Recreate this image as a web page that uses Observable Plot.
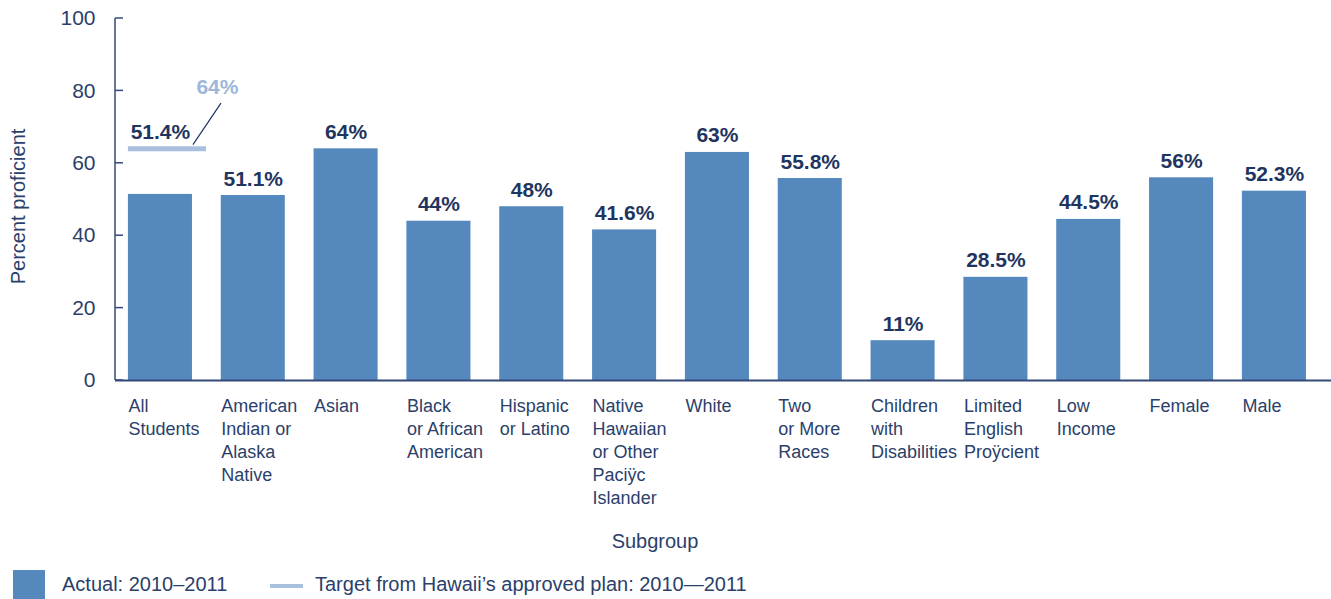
<!DOCTYPE html>
<html>
<head>
<meta charset="utf-8">
<script src="https://cdn.jsdelivr.net/npm/d3@7"></script>
<script src="https://cdn.jsdelivr.net/npm/@observablehq/plot@0.6"></script>
<style>
  html, body { margin: 0; padding: 0; background: #fff; }
  body { width: 1331px; height: 599px; overflow: hidden; position: relative; font-family: "Liberation Sans", Arial, sans-serif; color: #2b3f6b; }
  #chart { position: absolute; left: 0; top: 0; }
  #xtitle { position: absolute; left: 655px; top: 530px; transform: translateX(-50%); font-size: 20px; white-space: nowrap; }
  #legend { position: absolute; left: 0; top: 568px; height: 31px; width: 1331px; font-size: 20px; }
  .sw-bar { position: absolute; left: 13px; top: 2px; width: 32px; height: 29px; background: #5589be; }
  .lab1 { position: absolute; left: 62px; top: 5px; white-space: nowrap; }
  .sw-line { position: absolute; left: 270px; top: 16px; width: 33px; height: 4px; background: #a9bfde; }
  .lab2 { position: absolute; left: 315px; top: 5px; white-space: nowrap; }
</style>
</head>
<body>
<div id="chart"></div>
<div id="xtitle">Subgroup</div>
<div id="legend">
  <div class="sw-bar"></div><div class="lab1">Actual: 2010–2011</div>
  <div class="sw-line"></div><div class="lab2">Target from Hawaii’s approved plan: 2010—2011</div>
</div>
<script>
const subgroups = ["All Students", "American Indian or Alaska Native", "Asian", "Black or African American", "Hispanic or Latino", "Native Hawaiian or Other Pacific Islander", "White", "Two or More Races", "Children with Disabilities", "Limited English Proficient", "Low Income", "Female", "Male"];
const tickLabels = ["All\nStudents", "American\nIndian or\nAlaska\nNative", "Asian", "Black\nor African\nAmerican", "Hispanic\nor Latino", "Native\nHawaiian\nor Other\nPaciÿc\nIslander", "White", "Two\nor More\nRaces", "Children\nwith\nDisabilities", "Limited\nEnglish\nProÿcient", "Low\nIncome", "Female", "Male"];
const actual = [51.4, 51.1, 64, 44, 48, 41.6, 63, 55.8, 11, 28.5, 44.5, 56, 52.3];
const valueLabels = ["51.4%", "51.1%", "64%", "44%", "48%", "41.6%", "63%", "55.8%", "11%", "28.5%", "44.5%", "56%", "52.3%"];
const targetGroup = "All Students";
const targetValue = 64;
const targetLabel = "64%";
const yTicks = [0, 20, 40, 60, 80, 100];

const data = subgroups.map((s, i) => ({
  group: s,
  value: actual[i],
  label: valueLabels[i],
  labelY: s === targetGroup ? Math.max(actual[i], targetValue) : actual[i]
}));
const targetData = [{ group: targetGroup, target: targetValue, label: targetLabel }];
const tickMap = new Map(subgroups.map((s, i) => [s, tickLabels[i]]));

const navy = "#2b3f6b";
const axisNavy = "#34497a";
const labNavy = "#1f3560";

const plot = Plot.plot({
  width: 1331,
  height: 520,
  marginTop: 18,
  marginBottom: 140,
  marginLeft: 115,
  marginRight: 0,
  style: { fontFamily: "Liberation Sans, Arial, sans-serif", color: navy, background: "#fff", overflow: "visible" },
  x: { domain: subgroups, paddingInner: 0.31, paddingOuter: 0.2045, align: 0.34, round: false, label: null },
  y: { domain: [0, 100], label: null },
  marks: [
    Plot.barY(data, { x: "group", y: "value", fill: "#5589be" }),
    Plot.tickY(targetData, { x: "group", y: "target", stroke: "#a9bfde", strokeWidth: 5, insetRight: -14 }),
    Plot.text(data, { x: "group", y: "labelY", text: "label", lineAnchor: "bottom", dy: -10, fontSize: 21, fontWeight: "bold", fill: labNavy }),
    Plot.text(targetData, { x: "group", y: () => 81, text: "label", dx: 57, fontSize: 21, fontWeight: "bold", fill: "#9db6da" }),
    Plot.axisY({ ticks: yTicks, tickSize: 0, tickPadding: 20, fontSize: 21, fill: navy, label: null }),
    Plot.axisX({ tickSize: 0, tickPadding: 15, fontSize: 18, textAnchor: "start", dx: -32, lineHeight: 1.28, fill: navy, tickFormat: d => tickMap.get(d), label: null }),
    Plot.ruleY([0], { stroke: axisNavy, strokeWidth: 2 }),
    Plot.text(["Percent proficient"], { frameAnchor: "left", textAnchor: "middle", dx: -97, dy: 7, rotate: -90, fontSize: 20, fill: navy, text: d => d })
  ]
});
document.getElementById("chart").appendChild(plot);

// y-axis line, inward ticks and leader line, positioned through the plot's own scales
const xs = plot.scale("x"), ys = plot.scale("y");
const svg = d3.select(plot.tagName.toLowerCase() === "svg" ? plot : plot.querySelector("svg"));
svg.append("line")
  .attr("x1", 115).attr("x2", 115)
  .attr("y1", ys.apply(100)).attr("y2", ys.apply(0))
  .attr("stroke", axisNavy).attr("stroke-width", 1.5);
svg.append("g").selectAll("line").data(yTicks).join("line")
  .attr("x1", 115).attr("x2", 123)
  .attr("y1", d => ys.apply(d)).attr("y2", d => ys.apply(d))
  .attr("stroke", axisNavy).attr("stroke-width", 1.5);
const bandEnd = xs.apply(targetGroup) + xs.bandwidth;
svg.append("line")
  .attr("x1", bandEnd + 1).attr("y1", ys.apply(targetValue + 1))
  .attr("x2", bandEnd + 29).attr("y2", ys.apply(76.5))
  .attr("stroke", labNavy).attr("stroke-width", 1.2);
</script>
</body>
</html>
